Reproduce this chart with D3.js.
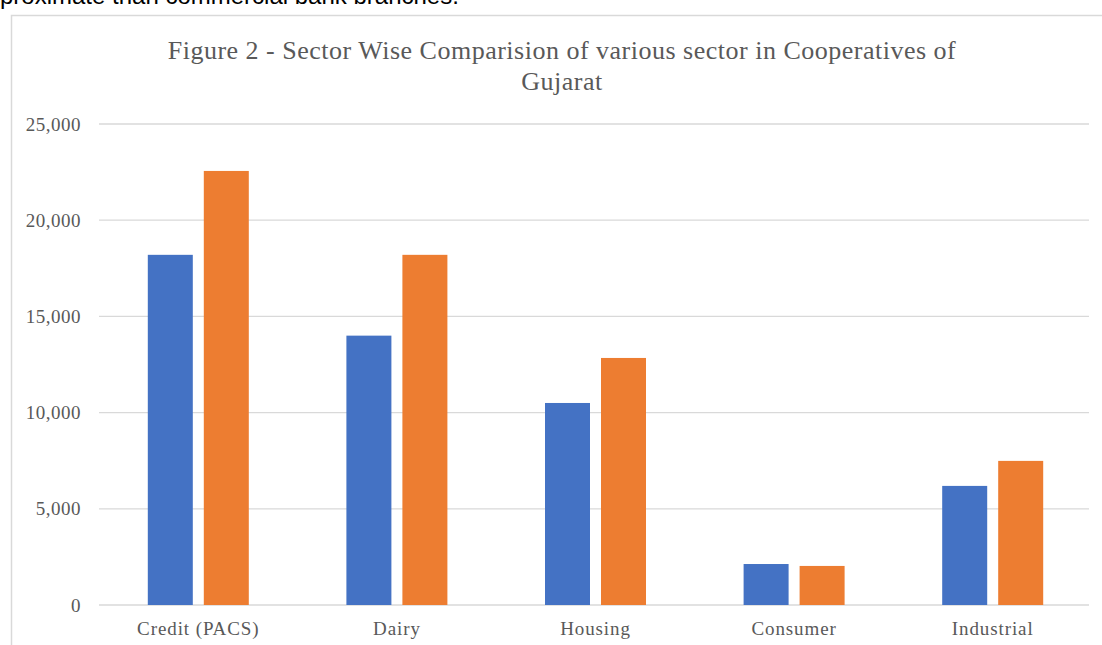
<!DOCTYPE html>
<html><head><meta charset="utf-8">
<script src="https://cdn.jsdelivr.net/npm/d3@7"></script>
<style>body{margin:0;background:#fff;}svg{display:block;}</style>
</head><body>
<script>
const categories = ["Credit (PACS)", "Dairy", "Housing", "Consumer", "Industrial"];
const series1 = [18200, 14000, 10500, 2130, 6190];
const series2 = [22560, 18200, 12840, 2030, 7490];
const yTicks = [0, 5000, 10000, 15000, 20000, 25000];
const titleLines = ["Figure 2 - Sector Wise Comparision of various sector in Cooperatives of", "Gujarat"];
const aboveText = "proximate than commercial bank branches.";

(function () {
const W = 1102, H = 645;
const svg = d3.select("body").append("svg").attr("width", W).attr("height", H);

svg.append("text").attr("x", 0).attr("y", 4).attr("font-family", "Liberation Sans, Arial, sans-serif")
  .attr("font-size", 24).attr("fill", "#000").text(aboveText);

// chart frame
svg.append("rect").attr("x", 11.5).attr("y", 15.5).attr("width", 1200).attr("height", 800)
  .attr("fill", "#fff").attr("stroke", "#d9d9d9").attr("stroke-width", 1.5);

const pLeft = 99, pRight = 1092, pTop = 124, pBottom = 605;
const x = d3.scaleBand().domain(categories).range([pLeft, pRight]).paddingInner(0).paddingOuter(0);
const y = d3.scaleLinear().domain([0, 25000]).range([pBottom, pTop]);

const fmt = d3.format(",");
svg.append("g").selectAll("line").data(yTicks).join("line")
  .attr("x1", pLeft).attr("x2", 1089).attr("y1", d => y(d)).attr("y2", d => y(d))
  .attr("stroke", "#d9d9d9").attr("stroke-width", 1.3);

const serif = "Liberation Serif, Times New Roman, serif";
const yAxis = svg.append("g").attr("transform", `translate(${pLeft},0)`)
  .call(d3.axisLeft(y).tickValues(yTicks).tickFormat(fmt).tickSize(0).tickPadding(18));
yAxis.select(".domain").remove();
yAxis.selectAll("text").attr("font-family", serif)
  .attr("font-size", 19).attr("letter-spacing", 0.5).attr("fill", "#595959");

const xAxis = svg.append("g").attr("transform", `translate(0,${pBottom})`)
  .call(d3.axisBottom(x).tickSize(0).tickPadding(17));
xAxis.select(".domain").remove();
xAxis.selectAll("text").attr("font-family", serif)
  .attr("font-size", 19).attr("letter-spacing", 0.9).attr("fill", "#595959");

const barW = 45, gap = 11;
const bw = x.bandwidth();
const off1 = bw / 2 - gap / 2 - barW;
const off2 = bw / 2 + gap / 2;
svg.append("g").selectAll("rect").data(categories).join("rect")
  .attr("x", (d) => x(d) + off1).attr("width", barW)
  .attr("y", (d, i) => y(series1[i])).attr("height", (d, i) => y(0) - y(series1[i]))
  .attr("fill", "#4472c4");
svg.append("g").selectAll("rect").data(categories).join("rect")
  .attr("x", (d) => x(d) + off2).attr("width", barW)
  .attr("y", (d, i) => y(series2[i])).attr("height", (d, i) => y(0) - y(series2[i]))
  .attr("fill", "#ed7d31");

svg.append("g").selectAll("text").data(titleLines).join("text")
  .attr("x", 562).attr("y", (d, i) => 59 + i * 31).attr("text-anchor", "middle")
  .attr("font-family", serif).attr("font-size", 26).attr("letter-spacing", 0.5)
  .attr("fill", "#595959").text(d => d);
})();
</script>
</body></html>
